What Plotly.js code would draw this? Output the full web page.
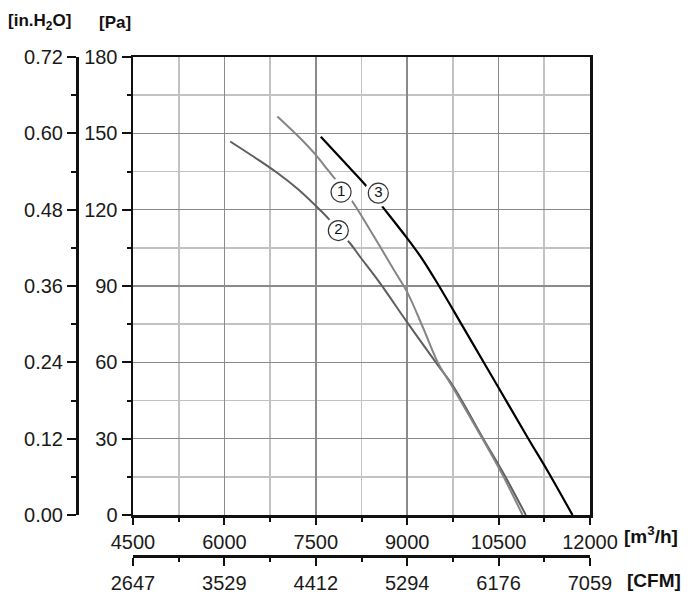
<!DOCTYPE html>
<html>
<head>
<meta charset="utf-8">
<script src="https://cdn.plot.ly/plotly-3.0.1.min.js"></script>
<style>
  html, body { margin: 0; padding: 0; background: #fff; }
  #graph { width: 700px; height: 598px; }
</style>
</head>
<body>
<div id="graph"></div>
<script>
"use strict";

// --- curve data: flow [m3/h] vs static pressure [Pa] ---
const kurve1Akis = [6870, 7297, 7500, 7690, 7870, 8116, 8390, 8554, 8800, 9000, 9264, 9510, 9756, 10230, 10560, 10893];
const kurve1Basinc = [156.6, 146.8, 141.5, 135.8, 130.5, 122.6, 112.0, 105.5, 95.6, 87.6, 73.4, 59.6, 49.8, 30.2, 16.0, 0];

const kurve2Akis = [6095, 6500, 6860, 7200, 7500, 7707, 7870, 8062, 8226, 8554, 8992, 9500, 9760, 10260, 10600, 10947];
const kurve2Basinc = [146.8, 140.5, 134.6, 128.2, 121.5, 116.5, 111.8, 106.8, 101.5, 91.1, 76.0, 59.0, 50.4, 29.5, 15.5, 0];

const kurve3Akis = [7582, 7952, 8336, 8554, 8992, 9250, 9510, 9756, 10000, 10500, 11000, 11300, 11713];
const kurve3Basinc = [148.7, 139.1, 129.1, 122.4, 109.0, 100.5, 90.5, 80.5, 70.5, 50.0, 29.5, 17.5, 0];

// circled curve numbers
const etiketMetin = ['1', '2', '3'];
const etiketAkis = [7915, 7870, 8526];
const etiketBasinc = [126.9, 111.8, 126.5];

// secondary axis labels
const cfmTikler = [2647, 3529, 4412, 5294, 6176, 7059];
const cfmAraTikler = [3088, 3970, 4853, 5735, 6617];
const inchAralik = [0, 0.72];

const FONT = 'Liberation Sans, Arial, Helvetica, sans-serif';
const SIYAH = '#111111';
const ANA_GRID = '#8a8a8a';
const ARA_GRID = '#c2c2c2';

const traces = [
    {
        x: kurve2Akis, y: kurve2Basinc, type: 'scatter', mode: 'lines',
        line: { color: '#5e5e5e', width: 2, shape: 'spline', smoothing: 1 },
        hoverinfo: 'skip', showlegend: false
    },
    {
        x: kurve1Akis, y: kurve1Basinc, type: 'scatter', mode: 'lines',
        line: { color: '#858585', width: 2, shape: 'spline', smoothing: 1 },
        hoverinfo: 'skip', showlegend: false
    },
    {
        x: kurve3Akis, y: kurve3Basinc, type: 'scatter', mode: 'lines',
        line: { color: '#000000', width: 2.2, shape: 'spline', smoothing: 1 },
        hoverinfo: 'skip', showlegend: false
    },
    // white halo breaking the curve around each label
    {
        x: etiketAkis, y: etiketBasinc, type: 'scatter', mode: 'markers',
        marker: { symbol: 'circle', size: 28, color: '#ffffff', line: { width: 0 } },
        hoverinfo: 'skip', showlegend: false
    },
    {
        x: etiketAkis, y: etiketBasinc, type: 'scatter', mode: 'markers+text',
        text: etiketMetin, textposition: 'middle center',
        textfont: { family: FONT, size: 15, color: SIYAH },
        marker: { symbol: 'circle', size: 20, color: '#ffffff', line: { width: 1.2, color: '#333333' } },
        hoverinfo: 'skip', showlegend: false
    },
    // invisible trace so the CFM and in.H2O axes get drawn
    {
        x: [cfmTikler[0], cfmTikler[cfmTikler.length - 1]], y: inchAralik,
        xaxis: 'x2', yaxis: 'y2', type: 'scatter', mode: 'markers',
        marker: { size: 1, opacity: 0 }, hoverinfo: 'skip', showlegend: false
    }
];

const ortakEksen = {
    showline: true, linecolor: SIYAH, linewidth: 2.5,
    ticks: 'outside', tickcolor: SIYAH, tickwidth: 2,
    zeroline: false, fixedrange: true,
    tickfont: { family: FONT, size: 20, color: '#1a1a1a' }
};

const layout = {
    width: 700, height: 598,
    margin: { l: 77, r: 110, t: 57, b: 42, pad: 0 },
    paper_bgcolor: '#ffffff', plot_bgcolor: '#ffffff',
    showlegend: false,
    font: { family: FONT, color: '#1a1a1a' },
    xaxis: Object.assign({}, ortakEksen, {
        domain: [56 / 513, 1], anchor: 'y',
        range: [4500, 12000], tick0: 4500, dtick: 1500, tickformat: 'd', ticklen: 7,
        mirror: true,
        showgrid: true, gridcolor: ANA_GRID, gridwidth: 1.6,
        minor: { dtick: 750, ticks: 'outside', ticklen: 4, tickcolor: SIYAH, tickwidth: 2,
                 showgrid: true, gridcolor: ARA_GRID, gridwidth: 1.6 }
    }),
    yaxis: Object.assign({}, ortakEksen, {
        domain: [41 / 499, 1], anchor: 'x',
        range: [0, 180], tick0: 0, dtick: 30, ticklen: 9,
        mirror: true,
        showgrid: true, gridcolor: ANA_GRID, gridwidth: 1.6,
        minor: { dtick: 15, ticks: 'outside', ticklen: 4, tickcolor: SIYAH, tickwidth: 2,
                 showgrid: true, gridcolor: ARA_GRID, gridwidth: 1.6 }
    }),
    yaxis2: Object.assign({}, ortakEksen, {
        overlaying: 'y', anchor: 'free', position: 0, side: 'left',
        range: inchAralik, tick0: 0, dtick: 0.12, tickformat: '.2f', ticklen: 9,
        showgrid: false,
        minor: { dtick: 0.06, ticks: 'outside', ticklen: 5, tickcolor: SIYAH, tickwidth: 2, showgrid: false }
    }),
    xaxis2: Object.assign({}, ortakEksen, {
        overlaying: 'x', anchor: 'free', position: 0, side: 'bottom',
        range: [cfmTikler[0], cfmTikler[cfmTikler.length - 1]],
        tickmode: 'array', tickvals: cfmTikler, ticktext: cfmTikler.map(String), ticklen: 8,
        showgrid: false,
        minor: { tickmode: 'array', tickvals: cfmAraTikler, ticks: 'outside', ticklen: 4,
                 tickcolor: SIYAH, tickwidth: 2, showgrid: false }
    }),
    annotations: [
        { xref: 'paper', yref: 'paper', x: -0.138, y: 1.07, xanchor: 'left', yanchor: 'middle',
          text: '<b>[in.H<sub>2</sub>O]</b>', showarrow: false, font: { family: FONT, size: 17, color: SIYAH } },
        { xref: 'paper', yref: 'paper', x: 0.039, y: 1.07, xanchor: 'left', yanchor: 'middle',
          text: '<b>[Pa]</b>', showarrow: false, font: { family: FONT, size: 17, color: SIYAH } },
        { xref: 'paper', yref: 'paper', x: 1.062, y: 0.042, xanchor: 'left', yanchor: 'middle',
          text: '<b>[m<sup>3</sup>/h]</b>', showarrow: false, font: { family: FONT, size: 19, color: SIYAH } },
        { xref: 'paper', yref: 'paper', x: 1.068, y: -0.05, xanchor: 'left', yanchor: 'middle',
          text: '<b>[CFM]</b>', showarrow: false, font: { family: FONT, size: 19, color: SIYAH } }
    ]
};

Plotly.newPlot('graph', traces, layout, { staticPlot: true, displayModeBar: false }).catch(err => {
    console.error('Grafik çizilirken hata:', err);
});
</script>
</body>
</html>
